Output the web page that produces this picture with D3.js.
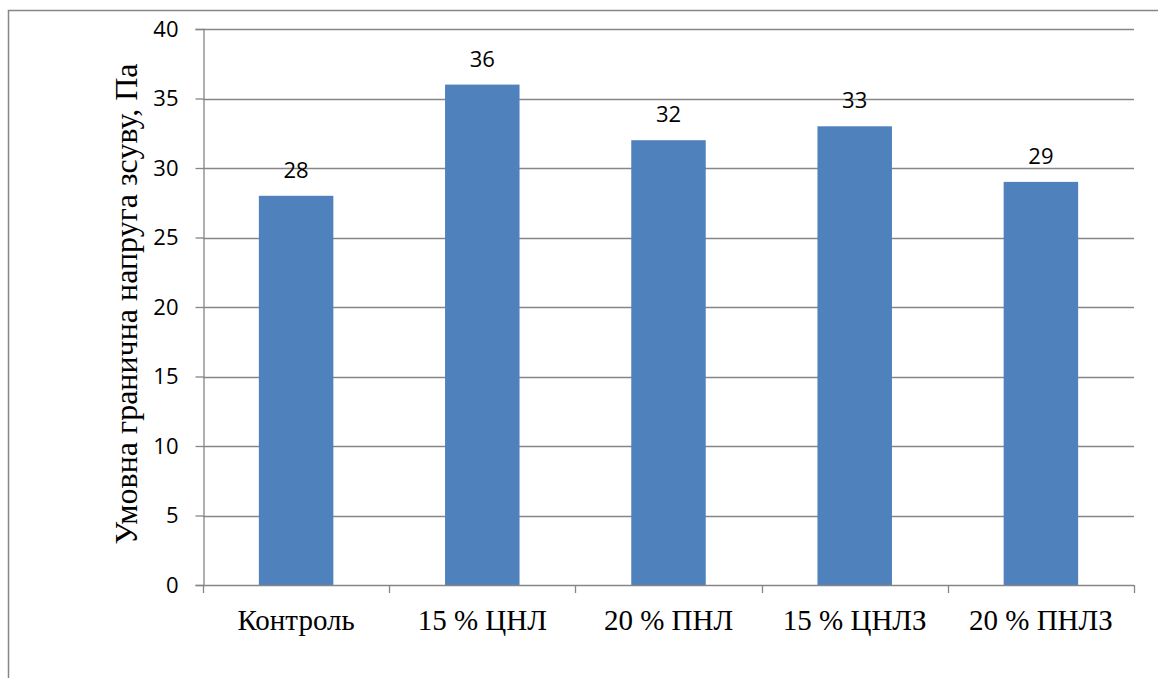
<!DOCTYPE html>
<html>
<head>
<meta charset="utf-8">
<script src="https://cdn.jsdelivr.net/npm/d3@7"></script>
<style>
  html, body { margin: 0; padding: 0; background: #ffffff; }
  svg { display: block; }
</style>
</head>
<body>
<svg id="chart" width="1158" height="678"></svg>
<script>
// Chart data
const categories = ["Контроль", "15 % ЦНЛ", "20 % ПНЛ", "15 % ЦНЛЗ", "20 % ПНЛЗ"];
const values = [28, 36, 32, 33, 29];
const yTicks = [0, 5, 10, 15, 20, 25, 30, 35, 40];
const yTitle = "Умовна гранична напруга зсуву, Па";

const W = 1158, H = 678;
const plot = { left: 203, right: 1134, top: 29, bottom: 585 };
const gridColor = "#868686";
const barColor = "#4F81BD";
const numFont = "'Open Sans', 'Noto Sans', sans-serif";
const serifFont = "'Liberation Serif', 'DejaVu Serif', serif";

const svg = d3.select("#chart");

// outer chart-area frame (extends past the right and bottom edges)
svg.append("path")
  .attr("d", `M8.5,${H + 2} V10.5 H${W + 2}`)
  .attr("fill", "none")
  .attr("stroke", gridColor)
  .attr("stroke-width", 1.5);

const x = d3.scaleBand()
  .domain(categories)
  .range([plot.left, plot.right])
  .paddingInner(0.6)
  .paddingOuter(0.3);

const y = d3.scaleLinear()
  .domain([0, 40])
  .range([plot.bottom, plot.top]);

// horizontal gridlines
svg.append("g")
  .selectAll("line")
  .data(yTicks.filter(t => t > 0))
  .join("line")
  .attr("x1", plot.left)
  .attr("x2", plot.right)
  .attr("y1", d => Math.round(y(d)) + 0.5)
  .attr("y2", d => Math.round(y(d)) + 0.5)
  .attr("stroke", gridColor)
  .attr("stroke-width", 1.3);

// y axis
const yAxis = d3.axisLeft(y)
  .tickValues(yTicks)
  .tickSize(8)
  .tickPadding(17)
  .tickFormat(d3.format("d"));

const gy = svg.append("g")
  .attr("transform", `translate(${plot.left + 0.5},0)`)
  .call(yAxis);
gy.select(".domain").attr("stroke", gridColor).attr("stroke-width", 1.3);
gy.selectAll(".tick line").attr("stroke", gridColor).attr("stroke-width", 1.3);
gy.selectAll(".tick text")
  .attr("fill", "#000")
  .style("font-family", numFont)
  .style("font-size", "22px");

// bars
svg.append("g")
  .selectAll("rect")
  .data(values)
  .join("rect")
  .attr("x", (d, i) => x(categories[i]))
  .attr("y", d => y(d))
  .attr("width", x.bandwidth())
  .attr("height", d => y(0) - y(d))
  .attr("fill", barColor);

// x axis line with ticks at the category boundaries
const step = x.step();
const bounds = d3.range(categories.length + 1).map(i => plot.left + i * step);
svg.append("line")
  .attr("x1", plot.left).attr("x2", plot.right)
  .attr("y1", y(0) + 0.5).attr("y2", y(0) + 0.5)
  .attr("stroke", gridColor).attr("stroke-width", 1.3);
svg.append("g")
  .selectAll("line")
  .data(bounds)
  .join("line")
  .attr("x1", d => Math.round(d) + 0.5)
  .attr("x2", d => Math.round(d) + 0.5)
  .attr("y1", y(0))
  .attr("y2", y(0) + 8)
  .attr("stroke", gridColor)
  .attr("stroke-width", 1.3);

// category labels
svg.append("g")
  .selectAll("text")
  .data(categories)
  .join("text")
  .attr("x", d => x(d) + x.bandwidth() / 2)
  .attr("y", 630)
  .attr("text-anchor", "middle")
  .style("font-family", serifFont)
  .style("font-size", "29px")
  .attr("fill", "#000")
  .text(d => d);

// value labels above the bars
svg.append("g")
  .selectAll("text")
  .data(values)
  .join("text")
  .attr("x", (d, i) => x(categories[i]) + x.bandwidth() / 2)
  .attr("y", d => y(d) - 18)
  .attr("text-anchor", "middle")
  .style("font-family", numFont)
  .style("font-size", "22px")
  .attr("fill", "#000")
  .text(d => d);

// y-axis title
svg.append("text")
  .attr("transform", `translate(137,304) rotate(-90)`)
  .attr("text-anchor", "middle")
  .style("font-family", serifFont)
  .style("font-size", "32px")
  .attr("fill", "#000")
  .text(yTitle);
</script>
</body>
</html>
